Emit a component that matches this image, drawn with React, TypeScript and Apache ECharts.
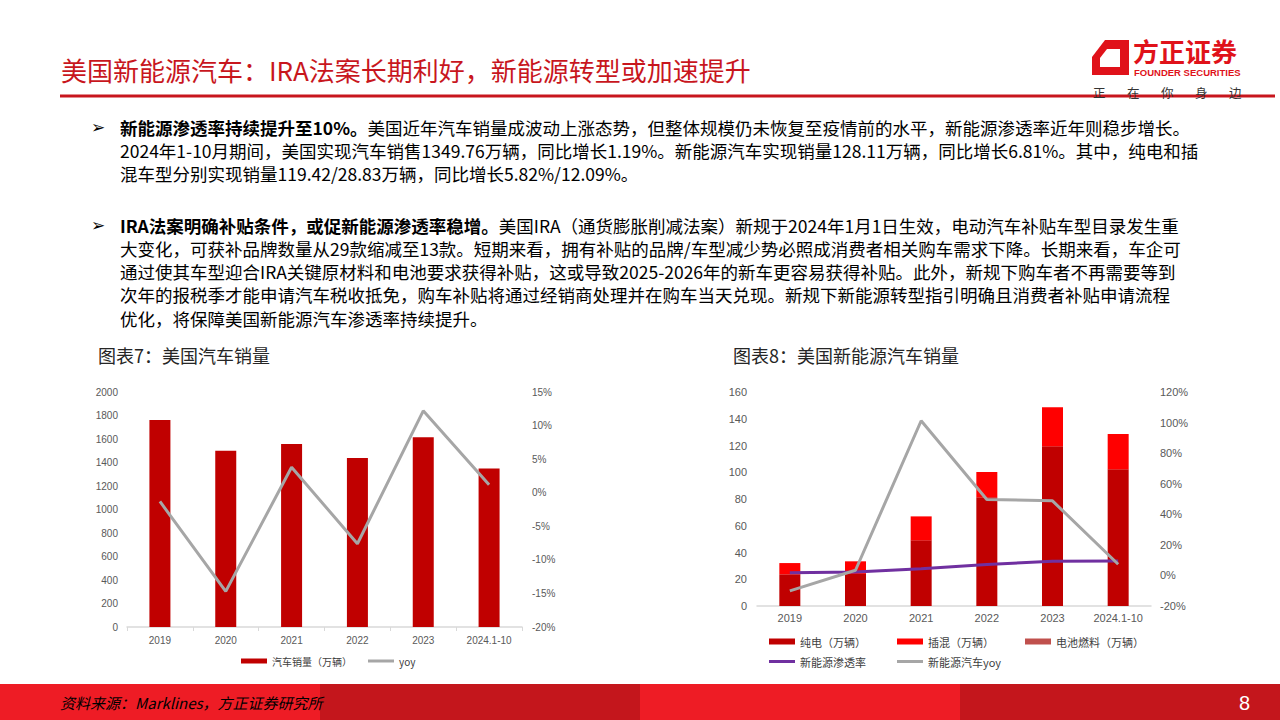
import React, { useEffect, useRef } from 'react';
import * as echarts from 'echarts';

// ---------- data ----------
const categories = ['2019', '2020', '2021', '2022', '2023', '2024.1-10'];
// 图表7：美国汽车销量
const salesValues = [1762, 1500, 1557, 1438, 1614, 1350];
const salesYoy = [-1.3, -14.7, 3.8, -7.6, 12.2, 1.2];
// 图表8：美国新能源汽车销量
const bevValues = [23.7, 24.0, 49.1, 81.3, 119.4, 102.2];
const phevValues = [8.4, 9.4, 17.9, 18.9, 29.2, 26.4];
const fcevValues = [0, 0, 0, 0, 0, 0];
const nevPenetration = [1.8, 2.3, 4.4, 7.2, 9.2, 9.4];
const nevYoy = [-10.1, 3.4, 101.2, 49.7, 48.8, 7.3];

// axis ranges (tick labels)
const salesAxis = { min: 0, max: 2000, interval: 200 };
const salesYoyAxis = { min: -20, max: 15, interval: 5 };
const nevAxis = { min: 0, max: 160, interval: 20 };
const nevRateAxis = { min: -20, max: 120, interval: 20 };

// texts
const pageTitle = '美国新能源汽车：IRA法案长期利好，新能源转型或加速提升';
const para1Bold = '新能源渗透率持续提升至10%。';
const para1Lines = [
  '美国近年汽车销量成波动上涨态势，但整体规模仍未恢复至疫情前的水平，新能源渗透率近年则稳步增长。',
  '2024年1-10月期间，美国实现汽车销售1349.76万辆，同比增长1.19%。新能源汽车实现销量128.11万辆，同比增长6.81%。其中，纯电和插',
  '混车型分别实现销量119.42/28.83万辆，同比增长5.82%/12.09%。',
];
const para2Bold = 'IRA法案明确补贴条件，或促新能源渗透率稳增。';
const para2Lines = [
  '美国IRA（通货膨胀削减法案）新规于2024年1月1日生效，电动汽车补贴车型目录发生重',
  '大变化，可获补品牌数量从29款缩减至13款。短期来看，拥有补贴的品牌/车型减少势必照成消费者相关购车需求下降。长期来看，车企可',
  '通过使其车型迎合IRA关键原材料和电池要求获得补贴，这或导致2025-2026年的新车更容易获得补贴。此外，新规下购车者不再需要等到',
  '次年的报税季才能申请汽车税收抵免，购车补贴将通过经销商处理并在购车当天兑现。新规下新能源转型指引明确且消费者补贴申请流程',
  '优化，将保障美国新能源汽车渗透率持续提升。',
];
const chart7Title = '图表7：美国汽车销量';
const chart8Title = '图表8：美国新能源汽车销量';
const sourceText = '资料来源：Marklines，方正证券研究所';
const pageNumber = '8';
const logoName = '方正证券';
const logoEnglish = 'FOUNDER SECURITIES';
const logoSlogan = ['正', '在', '你', '身', '边'];

const CJK = '"Noto Sans CJK SC", "Noto Sans", sans-serif';
const LAT = '"Liberation Sans", Arial, sans-serif';
const RED = '#c8161d';

export default function App() {
  const ref = useRef<HTMLDivElement>(null);

  useEffect(() => {
    if (!ref.current) return;
    const chart = echarts.init(ref.current, undefined, { renderer: 'svg' });

    const bodySize = 17.5;
    const rich = {
      b: { fontWeight: 'bold', fontSize: bodySize, fontFamily: CJK, fill: '#000', lineHeight: 20 },
      n: { fontWeight: 'normal', fontSize: bodySize, fontFamily: CJK, fill: '#000', lineHeight: 20 },
    };
    const paraText = (x: number, y: number, text: string) => ({
      type: 'text',
      x,
      y,
      silent: true,
      style: { text, fontSize: bodySize, fontFamily: CJK, fill: '#000', verticalAlign: 'middle', lineHeight: 20, rich },
    });

    const para1Y = [127, 150, 173];
    const para2Y = [225, 248.3, 271.6, 294.9, 318.2];

    const graphics: any[] = [];
    // title
    graphics.push({
      type: 'text', x: 61, y: 69, silent: true,
      style: { text: pageTitle, fontSize: 26, fontFamily: CJK, fill: RED, verticalAlign: 'middle' },
    });
    graphics.push({ type: 'rect', silent: true, shape: { x: 60, y: 94.5, width: 1215, height: 3 }, style: { fill: RED } });
    // logo
    graphics.push({
      type: 'polygon', silent: true,
      shape: { points: [[1105, 40], [1129, 40], [1129, 75], [1092, 75], [1092, 57]] },
      style: { fill: '#e0121a' },
    });
    graphics.push({
      type: 'polygon', silent: true,
      shape: { points: [[1107, 49], [1120, 49], [1120, 67], [1100, 67], [1100, 58]] },
      style: { fill: '#fff' },
    });
    graphics.push({
      type: 'text', x: 1133, y: 50, silent: true,
      style: { text: logoName, fontSize: 26, fontWeight: 'bold', fontFamily: CJK, fill: '#e0121a', verticalAlign: 'middle' },
    });
    graphics.push({
      type: 'text', x: 1134, y: 72, silent: true,
      style: { text: logoEnglish, fontSize: 9.5, fontWeight: 'bold', fontFamily: LAT, fill: '#e0121a', verticalAlign: 'middle' },
    });
    logoSlogan.forEach((ch, i) => {
      graphics.push({
        type: 'text', x: 1093 + i * 34, y: 92, silent: true,
        style: { text: ch, fontSize: 12.5, fontFamily: CJK, fill: '#333', verticalAlign: 'middle' },
      });
    });
    // bullets
    [127, 225].forEach((y) => {
      graphics.push({
        type: 'text', x: 91, y, silent: true,
        style: { text: '➢', fontSize: 17, fontFamily: '"DejaVu Sans", sans-serif', fill: '#000', verticalAlign: 'middle', lineHeight: 20 },
      });
    });
    // paragraphs
    para1Lines.forEach((line, i) => {
      const t = i === 0 ? `{b|${para1Bold}}{n|${line}}` : `{n|${line}}`;
      graphics.push(paraText(120, para1Y[i], t));
    });
    para2Lines.forEach((line, i) => {
      const t = i === 0 ? `{b|${para2Bold}}{n|${line}}` : `{n|${line}}`;
      graphics.push(paraText(120, para2Y[i], t));
    });
    // chart titles
    graphics.push({
      type: 'text', x: 98, y: 355, silent: true,
      style: { text: chart7Title, fontSize: 18, fontFamily: CJK, fill: '#262626', verticalAlign: 'middle' },
    });
    graphics.push({
      type: 'text', x: 733, y: 355, silent: true,
      style: { text: chart8Title, fontSize: 18, fontFamily: CJK, fill: '#262626', verticalAlign: 'middle' },
    });
    // footer
    const footerColors = ['#ee1c25', '#c4161c', '#ee1c25', '#c4161c'];
    footerColors.forEach((c, i) => {
      graphics.push({ type: 'rect', silent: true, shape: { x: i * 320, y: 684, width: 320, height: 36 }, style: { fill: c } });
    });
    graphics.push({
      type: 'text', x: 60, y: 702, silent: true,
      style: { text: sourceText, fontSize: 15, fontStyle: 'italic', fontFamily: CJK, fill: '#000', verticalAlign: 'middle' },
    });
    graphics.push({
      type: 'text', x: 1239, y: 703, silent: true,
      style: { text: pageNumber, fontSize: 20, fontFamily: LAT, fill: '#fff', verticalAlign: 'middle' },
    });

    const axisLabelLeft = (size: number) => ({ color: '#595959', fontSize: size, fontFamily: LAT });
    const legendText = (size: number) => ({ fontSize: size, color: '#404040', fontFamily: CJK });
    const mkLegend = (name: string, left: number, top: number, h: number, size: number, color: string) => ({
      data: [{ name, itemStyle: { color } }],
      left,
      top,
      padding: 0,
      icon: 'rect',
      itemWidth: 26,
      itemHeight: h,
      selectedMode: false,
      textStyle: legendText(size),
    });

    const option: any = {
      animation: false,
      backgroundColor: '#fff',
      graphic: graphics,
      grid: [
        { left: 127, top: 392, width: 395, height: 235 },
        { left: 757, top: 392, width: 394, height: 214 },
      ],
      xAxis: [
        {
          type: 'category', gridIndex: 0, data: categories,
          axisLine: { lineStyle: { color: '#d9d9d9', width: 1.5 } },
          axisTick: { show: true, length: 4, lineStyle: { color: '#d9d9d9' } },
          axisLabel: { ...axisLabelLeft(10), margin: 8 },
        },
        {
          type: 'category', gridIndex: 1, data: categories,
          axisLine: { lineStyle: { color: '#d9d9d9', width: 1.5 } },
          axisTick: { show: false },
          axisLabel: { ...axisLabelLeft(11), margin: 6 },
        },
      ],
      yAxis: [
        {
          type: 'value', gridIndex: 0, ...salesAxis,
          axisLine: { show: false }, axisTick: { show: false }, splitLine: { show: false },
          axisLabel: { ...axisLabelLeft(10), margin: 9, formatter: (v: number) => String(v) },
        },
        {
          type: 'value', gridIndex: 0, position: 'right', ...salesYoyAxis,
          axisLine: { show: false }, axisTick: { show: false }, splitLine: { show: false },
          axisLabel: { ...axisLabelLeft(10), margin: 10, formatter: (v: number) => `${v}%` },
        },
        {
          type: 'value', gridIndex: 1, ...nevAxis,
          axisLine: { show: false }, axisTick: { show: false }, splitLine: { show: false },
          axisLabel: { ...axisLabelLeft(11), margin: 10, formatter: (v: number) => String(v) },
        },
        {
          type: 'value', gridIndex: 1, position: 'right', ...nevRateAxis,
          axisLine: { show: false }, axisTick: { show: false }, splitLine: { show: false },
          axisLabel: { ...axisLabelLeft(11), margin: 9, formatter: (v: number) => `${v}%` },
        },
      ],
      legend: [
        mkLegend('汽车销量（万辆）', 241, 656, 5, 10, '#c00000'),
        mkLegend('yoy', 368, 656, 3, 10, '#a6a6a6'),
        mkLegend('纯电（万辆）', 769, 636, 6, 11, '#c00000'),
        mkLegend('插混（万辆）', 897, 636, 6, 11, '#ff0000'),
        mkLegend('电池燃料（万辆）', 1025, 636, 6, 11, '#c0504d'),
        mkLegend('新能源渗透率', 769, 656, 3, 11, '#7030a0'),
        mkLegend('新能源汽车yoy', 897, 656, 3, 11, '#a6a6a6'),
      ],
      series: [
        {
          name: '汽车销量（万辆）', type: 'bar', xAxisIndex: 0, yAxisIndex: 0,
          data: salesValues, barWidth: 21, itemStyle: { color: '#c00000' },
        },
        {
          name: 'yoy', type: 'line', xAxisIndex: 0, yAxisIndex: 1, data: salesYoy,
          symbol: 'none', color: '#a6a6a6', lineStyle: { color: '#a6a6a6', width: 3 },
        },
        {
          name: '纯电（万辆）', type: 'bar', stack: 'nev', xAxisIndex: 1, yAxisIndex: 2,
          data: bevValues, barWidth: 21, itemStyle: { color: '#c00000' },
        },
        {
          name: '插混（万辆）', type: 'bar', stack: 'nev', xAxisIndex: 1, yAxisIndex: 2,
          data: phevValues, barWidth: 21, itemStyle: { color: '#ff0000' },
        },
        {
          name: '电池燃料（万辆）', type: 'bar', stack: 'nev', xAxisIndex: 1, yAxisIndex: 2,
          data: fcevValues, barWidth: 21, itemStyle: { color: '#c0504d' },
        },
        {
          name: '新能源渗透率', type: 'line', xAxisIndex: 1, yAxisIndex: 3, data: nevPenetration,
          symbol: 'none', color: '#7030a0', lineStyle: { color: '#7030a0', width: 3 },
        },
        {
          name: '新能源汽车yoy', type: 'line', xAxisIndex: 1, yAxisIndex: 3, data: nevYoy,
          symbol: 'none', color: '#a6a6a6', lineStyle: { color: '#a6a6a6', width: 3 },
        },
      ],
    };

    chart.setOption(option);
    return () => {
      chart.dispose();
    };
  }, []);

  return (
    <div
      ref={ref}
      style={{ position: 'fixed', left: 0, top: 0, width: 1280, height: 720, background: '#fff' }}
    />
  );
}
